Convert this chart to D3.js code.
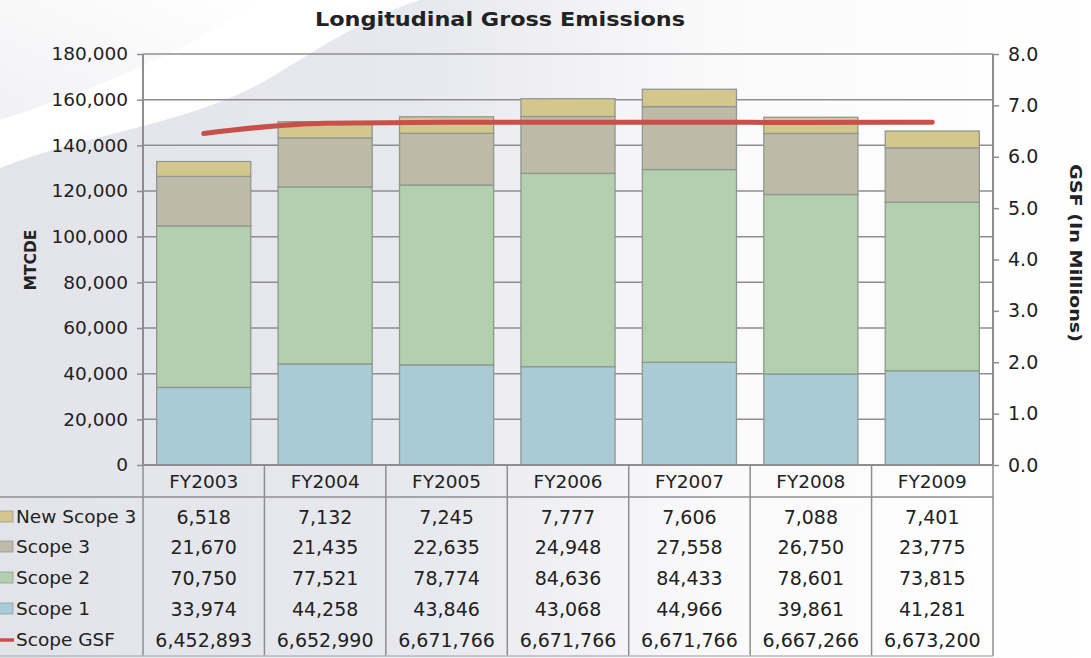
<!DOCTYPE html>
<html>
<head>
<meta charset="utf-8">
<script src="https://cdn.jsdelivr.net/npm/d3@7"></script>
<style>
  html, body { margin: 0; padding: 0; background: #fff; }
  svg { display: block; }
  text { font-family: "DejaVu Sans", Verdana, sans-serif; fill: #222; }
</style>
</head>
<body>
<svg id="chart" width="1091" height="658"></svg>
<script>
// Fiscal years and emission components (MTCDE), plus gross square footage
const categories = ["FY2003", "FY2004", "FY2005", "FY2006", "FY2007", "FY2008", "FY2009"];
const scope1     = [33974, 44258, 43846, 43068, 44966, 39861, 41281];
const scope2     = [70750, 77521, 78774, 84636, 84433, 78601, 73815];
const scope3     = [21670, 21435, 22635, 24948, 27558, 26750, 23775];
const newScope3  = [6518, 7132, 7245, 7777, 7606, 7088, 7401];
const scopeGSF   = [6452893, 6652990, 6671766, 6671766, 6671766, 6667266, 6673200];

const leftTicks  = [0, 20000, 40000, 60000, 80000, 100000, 120000, 140000, 160000, 180000];
const rightTicks = [0, 1, 2, 3, 4, 5, 6, 7, 8];

// Series in stacking order (bottom to top) and in table order (top to bottom)
const stackKeys = ["Scope 1", "Scope 2", "Scope 3", "New Scope 3"];
const seriesValues = { "Scope 1": scope1, "Scope 2": scope2, "Scope 3": scope3, "New Scope 3": newScope3 };
const colors = {
  "Scope 1": "#a8cbd5",
  "Scope 2": "#b2cfae",
  "Scope 3": "#bdbaa8",
  "New Scope 3": "#d3c78e",
  "Scope GSF": "#c8504a"
};
const tableRows = ["New Scope 3", "Scope 3", "Scope 2", "Scope 1", "Scope GSF"];

const svg = d3.select("#chart");
const W = 1091, H = 658;
const plot = { left: 143, right: 993, top: 54, bottom: 465 };

// ---- backdrop: soft grey field with a white sweep ----
const defs = svg.append("defs");
const g1 = defs.append("linearGradient").attr("id", "bgGrey").attr("x1", "0").attr("x2", "1").attr("y1", "0").attr("y2", "0");
g1.append("stop").attr("offset", "0").attr("stop-color", "#e3e4ea");
g1.append("stop").attr("offset", "0.4").attr("stop-color", "#e8e9ee");
g1.append("stop").attr("offset", "0.66").attr("stop-color", "#fafafb");
g1.append("stop").attr("offset", "1").attr("stop-color", "#ffffff");
const g2 = defs.append("linearGradient").attr("id", "bgCorner").attr("x1", "0").attr("x2", "1").attr("y1", "1").attr("y2", "0");
g2.append("stop").attr("offset", "0").attr("stop-color", "#f1f1f4");
g2.append("stop").attr("offset", "1").attr("stop-color", "#ffffff");

svg.append("rect").attr("width", W).attr("height", H).attr("fill", "#fff");
svg.append("path")
  .attr("d", "M0,0 L260,0 C200,40 150,70 0,120 Z")
  .attr("fill", "url(#bgCorner)");
svg.append("path")
  .attr("d", "M0,168 C90,132 190,125 270,78 C320,48 360,20 420,0 L1091,0 L1091,658 L0,658 Z")
  .attr("fill", "url(#bgGrey)");

// ---- scales ----
const x = d3.scaleBand().domain(categories).range([plot.left, plot.right]).padding(0);
const barW = x.bandwidth() * 0.775;
const y = d3.scaleLinear().domain([0, 180000]).range([plot.bottom, plot.top]);
const y2 = d3.scaleLinear().domain([0, 8]).range([plot.bottom, plot.top]);

// ---- gridlines ----
svg.append("g").selectAll("line").data(leftTicks.slice(1)).join("line")
  .attr("x1", plot.left).attr("x2", plot.right)
  .attr("y1", d => y(d)).attr("y2", d => y(d))
  .attr("stroke", "#8e8e92").attr("stroke-width", 1.5);

// ---- stacked bars ----
const rows = categories.map((c, i) => {
  const r = { cat: c };
  stackKeys.forEach(k => r[k] = seriesValues[k][i]);
  return r;
});
const stacked = d3.stack().keys(stackKeys)(rows);
svg.append("g").selectAll("g").data(stacked).join("g")
  .attr("fill", d => colors[d.key])
  .selectAll("rect").data(d => d).join("rect")
  .attr("x", d => x(d.data.cat) + (x.bandwidth() - barW) / 2)
  .attr("width", barW)
  .attr("y", d => y(d[1]))
  .attr("height", d => y(d[0]) - y(d[1]))
  .attr("stroke", "#8f9890").attr("stroke-width", 1.3);

// ---- axes ----
const leftAxis = d3.axisLeft(y).tickValues(leftTicks).tickFormat(d3.format(",")).tickSize(6).tickPadding(9);
const gl = svg.append("g").attr("transform", `translate(${plot.left},0)`).call(leftAxis);
gl.select(".domain").remove();
gl.selectAll(".tick line").attr("stroke", "#8e8e92").attr("stroke-width", 1.5);
gl.selectAll(".tick text").attr("font-size", 18.5).attr("fill", "#222").attr("font-family", "DejaVu Sans, Verdana, sans-serif");

const rightAxis = d3.axisRight(y2).tickValues(rightTicks).tickFormat(d3.format(".1f")).tickSize(6).tickPadding(9);
const gr = svg.append("g").attr("transform", `translate(${plot.right},0)`).call(rightAxis);
gr.select(".domain").remove();
gr.selectAll(".tick line").attr("stroke", "#8e8e92").attr("stroke-width", 1.5);
gr.selectAll(".tick text").attr("font-size", 19).attr("fill", "#222").attr("font-family", "DejaVu Sans, Verdana, sans-serif");

// axis lines
svg.append("line").attr("x1", plot.left).attr("x2", plot.left).attr("y1", plot.top).attr("y2", plot.bottom)
  .attr("stroke", "#8e8e92").attr("stroke-width", 2);
svg.append("line").attr("x1", plot.right).attr("x2", plot.right).attr("y1", plot.top).attr("y2", plot.bottom)
  .attr("stroke", "#8e8e92").attr("stroke-width", 2);
svg.append("line").attr("x1", plot.left).attr("x2", plot.right).attr("y1", plot.bottom).attr("y2", plot.bottom)
  .attr("stroke", "#8e8e92").attr("stroke-width", 2);

// ---- GSF line on the secondary axis ----
const line = d3.line()
  .x((d, i) => x(categories[i]) + x.bandwidth() / 2)
  .y(d => y2(d / 1e6))
  .curve(d3.curveMonotoneX);
svg.append("path").datum(scopeGSF)
  .attr("d", line)
  .attr("fill", "none")
  .attr("stroke", colors["Scope GSF"])
  .attr("stroke-width", 5)
  .attr("stroke-linecap", "round");

// ---- titles ----
svg.append("text").attr("x", 500).attr("y", 26).attr("text-anchor", "middle")
  .attr("font-size", 20).attr("font-weight", "bold").attr("fill", "#222")
  .attr("textLength", 370).attr("lengthAdjust", "spacingAndGlyphs")
  .text("Longitudinal Gross Emissions");
svg.append("text").attr("transform", "translate(36,260) rotate(-90)").attr("text-anchor", "middle")
  .attr("font-size", 15.5).attr("font-weight", "bold").attr("fill", "#111")
  .text("MTCDE");
svg.append("text").attr("transform", "translate(1070,253) rotate(90)").attr("text-anchor", "middle")
  .attr("font-size", 16).attr("font-weight", "bold").attr("fill", "#111")
  .attr("textLength", 178).attr("lengthAdjust", "spacingAndGlyphs")
  .text("GSF (In Millions)");

// ---- data table ----
const headerBottom = 497;
const tableBottom = 656;
const rowY = [517, 547, 578, 609, 640];
const tbl = svg.append("g");
const gridStroke = "#8e8e92";
const tableFont = 19;

// vertical cell borders
const colEdges = categories.map(c => x(c)).concat([plot.right]);
tbl.selectAll("line.v").data(colEdges).join("line").attr("class", "v")
  .attr("x1", d => d).attr("x2", d => d)
  .attr("y1", plot.bottom).attr("y2", tableBottom)
  .attr("stroke", gridStroke).attr("stroke-width", 1.5);
// header underline and bottom border
tbl.append("line").attr("x1", 0).attr("x2", plot.right).attr("y1", headerBottom).attr("y2", headerBottom)
  .attr("stroke", gridStroke).attr("stroke-width", 1.5);
tbl.append("line").attr("x1", 0).attr("x2", plot.right).attr("y1", tableBottom).attr("y2", tableBottom)
  .attr("stroke", "#b9b9bd").attr("stroke-width", 1.5);

// header labels
tbl.selectAll("text.h").data(categories).join("text").attr("class", "h")
  .attr("x", d => x(d) + x.bandwidth() / 2).attr("y", 482)
  .attr("dy", "0.35em").attr("text-anchor", "middle")
  .attr("font-size", 18.5).attr("fill", "#222").text(d => d);

const fmt = d3.format(",");
const tableValues = { ...seriesValues, "Scope GSF": scopeGSF };
tableRows.forEach((key, r) => {
  const yy = rowY[r];
  // legend key
  if (key === "Scope GSF") {
    tbl.append("line").attr("x1", 0).attr("x2", 14).attr("y1", yy).attr("y2", yy)
      .attr("stroke", colors[key]).attr("stroke-width", 3.5);
  } else {
    tbl.append("rect").attr("x", -1).attr("y", yy - 6).attr("width", 14).attr("height", 11)
      .attr("fill", colors[key]).attr("stroke", "#9a9a9a").attr("stroke-width", 0.8);
  }
  tbl.append("text").attr("x", 16).attr("y", yy).attr("dy", "0.35em")
    .attr("font-size", 18.5).attr("fill", "#222").text(key);
  tbl.selectAll(null).data(tableValues[key]).join("text")
    .attr("x", (d, i) => x(categories[i]) + x.bandwidth() / 2).attr("y", yy)
    .attr("dy", "0.35em").attr("text-anchor", "middle")
    .attr("font-size", tableFont).attr("fill", "#222").text(d => fmt(d));
});
</script>
</body>
</html>
